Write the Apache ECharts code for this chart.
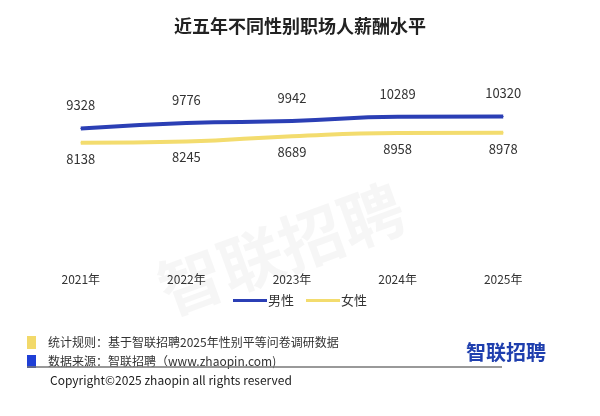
<!DOCTYPE html>
<html><head><meta charset="utf-8">
<script src="https://cdn.jsdelivr.net/npm/echarts@6/dist/echarts.min.js"></script>
<style>html,body{margin:0;padding:0;background:#fff}#c{width:600px;height:416px}</style>
</head><body><div id="c"></div>
<script>
const years = ['2021年','2022年','2023年','2024年','2025年'];
const male = [9328, 9776, 9942, 10289, 10320];
const female = [8138, 8245, 8689, 8958, 8978];
const F = '"Noto Sans CJK SC","Noto Sans",sans-serif';
const chart = echarts.init(document.getElementById('c'));
chart.setOption({
  backgroundColor:'#fff',
  animation:false,
  title:{text:'近五年不同性别职场人薪酬水平',left:'center',top:12,textStyle:{fontFamily:F,fontSize:18,fontWeight:'bold',color:'#222'}},
  grid:{left:28,right:44,top:60,bottom:175},
  legend:{top:289,left:'center',itemWidth:34,itemHeight:3,itemGap:12,icon:'rect',textStyle:{fontFamily:F,fontSize:13,color:'#333',padding:[0,0,0,-4]},data:['男性','女性']},
  xAxis:{type:'category',data:years,boundaryGap:true,axisLine:{show:false},axisTick:{show:false},axisLabel:{margin:32,fontFamily:F,fontSize:12,color:'#333'}},
  yAxis:{type:'value',min:0,max:15000,show:false,splitLine:{show:false}},
  graphic:[
    {type:'text',left:150,top:175,rotation:0.35,z:-1,style:{text:'智联招聘',font:'bold 64px '+F,fill:'rgba(0,0,0,0.035)'}},
    {type:'rect',shape:{x:27,y:336,width:9,height:13},style:{fill:'#f2d96a'}},
    {type:'text',x:48,y:336,style:{text:'统计规则：基于智联招聘2025年性别平等问卷调研数据',font:'12px '+F,fill:'#333'}},
    {type:'rect',shape:{x:27,y:355,width:9,height:13},style:{fill:'#1f3fd6'}},
    {type:'text',x:48,y:355,style:{text:'数据来源：智联招聘（www.zhaopin.com)',font:'12px '+F,fill:'#333'}},
    {type:'text',x:466,y:342,style:{text:'智联招聘',font:'bold 20px '+F,fill:'#1f3fae'}},
    {type:'line',shape:{x1:27,y1:367,x2:502,y2:367},style:{stroke:'#777',lineWidth:1.5}},
    {type:'text',x:50,y:374,style:{text:'Copyright©2025 zhaopin all rights reserved',font:'12px '+F,fill:'#222'}}
  ],
  series:[
    {name:'男性',type:'line',data:male,smooth:true,symbol:'circle',symbolSize:1,showSymbol:true,lineStyle:{width:4,color:'#2b3fb5'},itemStyle:{color:'#2b3fb5'},
     label:{show:true,position:'top',distance:16,fontFamily:F,fontSize:13,color:'#333'}},
    {name:'女性',type:'line',data:female,smooth:true,symbol:'circle',symbolSize:1,showSymbol:true,lineStyle:{width:4,color:'#f3dc6e'},itemStyle:{color:'#f3dc6e'},
     label:{show:true,position:'bottom',distance:9,fontFamily:F,fontSize:13,color:'#333'}}
  ]
});
</script></body></html>
